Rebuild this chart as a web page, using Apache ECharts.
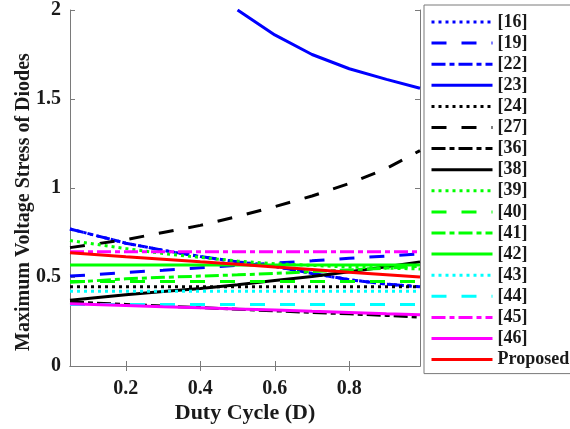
<!DOCTYPE html>
<html><head><meta charset="utf-8">
<script src="https://cdn.jsdelivr.net/npm/echarts@6/dist/echarts.min.js"></script>
<style>html,body{margin:0;padding:0;background:#fff}#c{width:570px;height:429px}</style>
</head><body><div id="c"></div>
<script>
// Duty cycle sample points
var dutyGrid = [0.05, 0.2, 0.3, 0.4, 0.5, 0.6, 0.7, 0.8, 0.9, 0.99];
// Values (null = off the chart)
var v16 = [0.77, 0.69, 0.65, 0.615, 0.585, 0.56, 0.52, 0.485, 0.46, 0.445];
var v19 = [0.505, 0.525, 0.538, 0.552, 0.565, 0.578, 0.591, 0.605, 0.618, 0.63];
var v22 = [0.77, 0.69, 0.65, 0.615, 0.585, 0.56, 0.52, 0.485, 0.46, 0.445];
var v23 = [null, null, null, null, 2.0, 1.86, 1.75, 1.67, 1.61, 1.56];
var v24 = [0.445, 0.445, 0.445, 0.445, 0.445, 0.445, 0.445, 0.445, 0.445, 0.445];
var v27 = [0.665, 0.71, 0.75, 0.79, 0.84, 0.895, 0.955, 1.025, 1.11, 1.21];
var v36 = [0.36, 0.346, 0.337, 0.328, 0.319, 0.31, 0.301, 0.293, 0.284, 0.275];
var v38 = [0.37, 0.40, 0.418, 0.435, 0.457, 0.48, 0.503, 0.53, 0.557, 0.585];
var v39 = [0.705, 0.66, 0.632, 0.61, 0.59, 0.575, 0.565, 0.556, 0.55, 0.545];
var v40 = [0.475, 0.475, 0.475, 0.475, 0.475, 0.475, 0.475, 0.475, 0.475, 0.475];
var v41 = [0.47, 0.49, 0.498, 0.505, 0.512, 0.52, 0.53, 0.54, 0.55, 0.56];
var v42 = [0.567, 0.567, 0.567, 0.567, 0.567, 0.567, 0.567, 0.567, 0.567, 0.567];
var v43 = [0.42, 0.42, 0.42, 0.42, 0.42, 0.42, 0.42, 0.42, 0.42, 0.42];
var v44 = [0.345, 0.345, 0.345, 0.345, 0.345, 0.345, 0.345, 0.345, 0.345, 0.345];
var v45 = [0.642, 0.642, 0.642, 0.642, 0.642, 0.642, 0.642, 0.642, 0.642, 0.642];
var v46 = [0.35, 0.34, 0.333, 0.327, 0.32, 0.314, 0.307, 0.301, 0.294, 0.288];
var vProposed = [0.636, 0.614, 0.6, 0.585, 0.571, 0.556, 0.542, 0.527, 0.513, 0.50];
var xTicks = [0.2, 0.4, 0.6, 0.8];
var seriesNames = ['[16]','[19]','[22]','[23]','[24]','[27]','[36]','[38]','[39]','[40]','[41]','[42]','[43]','[44]','[45]','[46]','Proposed'];
var seriesValues = [v16,v19,v22,v23,v24,v27,v36,v38,v39,v40,v41,v42,v43,v44,v45,v46,vProposed];

var DOT = [3, 4], DASH = [15, 15], DASHDOT = [14, 4, 5, 4];
var styles = [
  ['#0000ff', DOT], ['#0000ff', DASH], ['#0000ff', DASHDOT], ['#0000ff', 'solid'],
  ['#000000', DOT], ['#000000', DASH], ['#000000', DASHDOT], ['#000000', 'solid'],
  ['#00ff00', DOT], ['#00ff00', DASH], ['#00ff00', DASHDOT], ['#00ff00', 'solid'],
  ['#00ffff', DOT], ['#00ffff', DASH], ['#ff00ff', DASHDOT], ['#ff00ff', 'solid'],
  ['#ff0000', 'solid']
];
var FONT = '"Liberation Serif", "Times New Roman", serif';
var series = seriesNames.map(function (n, i) {
  return {
    name: n, type: 'line', symbol: 'none', clip: true, animation: false,
    data: dutyGrid.map(function (d, j) { return [d, seriesValues[i][j]]; }),
    lineStyle: { color: styles[i][0], type: styles[i][1], width: 3, cap: 'butt' },
    itemStyle: { color: styles[i][0] }
  };
});
var gray = '#7a7a7a';
var chart = echarts.init(document.getElementById('c'));
chart.setOption({
  backgroundColor: '#fff',
  animation: false,
  grid: { left: 70, right: 150, top: 7, bottom: 62 },
  legend: {
    orient: 'vertical', left: 424, top: 5,
    padding: [8, 3, 5, 6],
    itemWidth: 61, itemHeight: 14, itemGap: 3.1,
    borderColor: gray, borderWidth: 1,
    itemStyle: { opacity: 0 },
    lineStyle: { width: 3 },
    textStyle: { fontFamily: FONT, fontWeight: 'bold', fontSize: 18, color: '#1a1a1a', padding: [0,0,0,0] },
    data: seriesNames
  },
  xAxis: [{
    type: 'value', min: 0.05, max: 0.99,
    name: 'Duty Cycle (D)', nameLocation: 'middle', nameGap: 36, nameMoveOverlap: false,
    nameTextStyle: { fontFamily: FONT, fontWeight: 'bold', fontSize: 22, color: '#1a1a1a' },
    axisLine: { show: true, lineStyle: { color: gray, width: 1 } },
    axisTick: { show: true, inside: true, length: 5, lineStyle: { color: gray }, customValues: xTicks },
    axisLabel: { fontFamily: FONT, fontWeight: 'bold', fontSize: 20, color: '#1a1a1a', margin: 13, customValues: xTicks,
      formatter: function (v) { return v.toFixed(1); } },
    splitLine: { show: false }
  }, {
    type: 'value', min: 0.05, max: 0.99, position: 'top',
    axisLine: { show: true, lineStyle: { color: gray, width: 1 } },
    axisTick: { show: true, inside: true, length: 5, lineStyle: { color: gray }, customValues: xTicks },
    axisLabel: { show: false }, splitLine: { show: false }
  }],
  yAxis: [{
    type: 'value', min: 0, max: 2, interval: 0.5,
    name: 'Maximum Voltage Stress of Diodes', nameLocation: 'middle', nameGap: 36, nameMoveOverlap: false,
    nameTextStyle: { fontFamily: FONT, fontWeight: 'bold', fontSize: 20, color: '#1a1a1a', padding: [0, 28, 0, 0] },
    axisLine: { show: true, lineStyle: { color: gray, width: 1 } },
    axisTick: { show: true, inside: true, length: 5, lineStyle: { color: gray } },
    axisLabel: { fontFamily: FONT, fontWeight: 'bold', fontSize: 20, color: '#1a1a1a', margin: 9 },
    splitLine: { show: false }
  }, {
    type: 'value', min: 0, max: 2, interval: 0.5, position: 'right',
    axisLine: { show: true, lineStyle: { color: gray, width: 1 } },
    axisTick: { show: true, inside: true, length: 5, lineStyle: { color: gray } },
    axisLabel: { show: false }, splitLine: { show: false }
  }],
  series: series
});
</script></body></html>
